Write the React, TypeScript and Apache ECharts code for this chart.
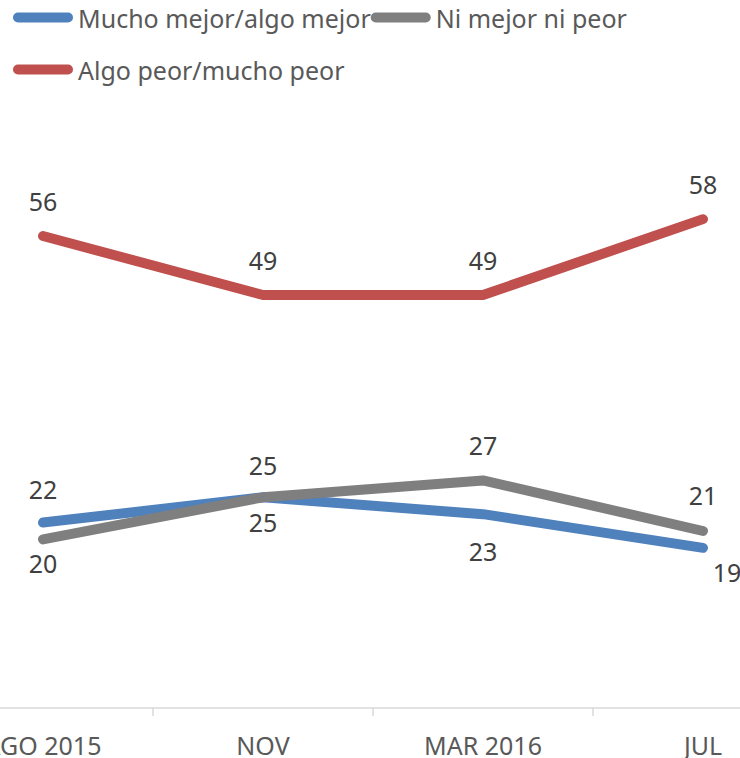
import React, { useEffect, useRef } from "react";
import * as echarts from "echarts";

const categories = ["AGO 2015", "NOV", "MAR 2016", "JUL"];
const seriesNames = ["Mucho mejor/algo mejor", "Ni mejor ni peor", "Algo peor/mucho peor"];
const mejorValues = [22, 25, 23, 19];
const igualValues = [20, 25, 27, 21];
const peorValues = [56, 49, 49, 58];

const COLORS = ["#4F81BD", "#7F7F7F", "#C0504D"];
const FONT = "'Noto Sans', 'Open Sans', sans-serif";
const SHIFT = 67; // chart canvas extends past the left edge of the visible frame

type LabelSpec = { pos: "top" | "bottom"; dist: number; dx?: number };

const mejorLabels: LabelSpec[] = [
  { pos: "top", dist: 21 },
  { pos: "bottom", dist: 12 },
  { pos: "bottom", dist: 24 },
  { pos: "bottom", dist: 11, dx: 24 },
];
const igualLabels: LabelSpec[] = [
  { pos: "bottom", dist: 11 },
  { pos: "top", dist: 19 },
  { pos: "top", dist: 22 },
  { pos: "top", dist: 23 },
];
const peorLabels: LabelSpec[] = [
  { pos: "top", dist: 22 },
  { pos: "top", dist: 22 },
  { pos: "top", dist: 22 },
  { pos: "top", dist: 22 },
];

const ICON = "path://M5 0H55A5 5 0 0 1 55 10H5A5 5 0 0 1 5 0Z";

function buildData(values: number[], labels: LabelSpec[]) {
  return values.map((v, i) => ({
    value: v,
    label: {
      position: labels[i].pos,
      distance: labels[i].dist,
      offset: [labels[i].dx || 0, 0],
    },
  }));
}

export default function App() {
  const ref = useRef<HTMLDivElement>(null);
  useEffect(() => {
    if (!ref.current) return;
    const chart = echarts.init(ref.current, undefined, { renderer: "svg" });
    const mkSeries = (name: string, values: number[], labels: LabelSpec[], color: string) => ({
      name,
      type: "line",
      data: buildData(values, labels),
      symbol: "circle",
      symbolSize: 1,
      showSymbol: true,
      itemStyle: { color },
      lineStyle: { color, width: 10, cap: "round", join: "round" },
      label: {
        show: true,
        color: "#404040",
        fontSize: 25,
        fontFamily: FONT,
      },
      emphasis: { disabled: true },
    });
    const legendText = { color: "#595959", fontSize: 25, fontFamily: FONT, lineHeight: 25 };
    chart.setOption({
      animation: false,
      legend: [
        {
          data: [seriesNames[0], seriesNames[1]],
          left: 13 + SHIFT,
          top: 5,
          padding: 0,
          itemGap: 0,
          itemWidth: 60,
          itemHeight: 10,
          icon: ICON,
          textStyle: legendText,
        },
        {
          data: [seriesNames[2]],
          left: 13 + SHIFT,
          top: 57,
          padding: 0,
          itemGap: 0,
          itemWidth: 60,
          itemHeight: 10,
          icon: ICON,
          textStyle: legendText,
        },
      ],
      grid: { left: 0, right: 0, top: 118, bottom: 50, containLabel: false },
      xAxis: {
        type: "category",
        data: categories,
        boundaryGap: true,
        axisLine: { show: true, lineStyle: { color: "#D9D9D9", width: 1.5 } },
        axisTick: { show: true, length: 8, lineStyle: { color: "#D9D9D9", width: 1.5 } },
        axisLabel: { color: "#595959", fontSize: 25, fontFamily: FONT, margin: 24, interval: 0 },
        splitLine: { show: false },
      },
      yAxis: {
        type: "value",
        min: 0,
        max: 70,
        show: false,
        splitLine: { show: false },
      },
      series: [
        mkSeries(seriesNames[0], mejorValues, mejorLabels, COLORS[0]),
        mkSeries(seriesNames[1], igualValues, igualLabels, COLORS[1]),
        mkSeries(seriesNames[2], peorValues, peorLabels, COLORS[2]),
      ],
    });
    return () => chart.dispose();
  }, []);
  return (
    <div style={{ position: "absolute", left: 0, top: 0, width: 740, height: 758, overflow: "hidden" }}>
      <div ref={ref} style={{ position: "absolute", left: -SHIFT, top: 0, width: 880, height: 758 }} />
    </div>
  );
}
